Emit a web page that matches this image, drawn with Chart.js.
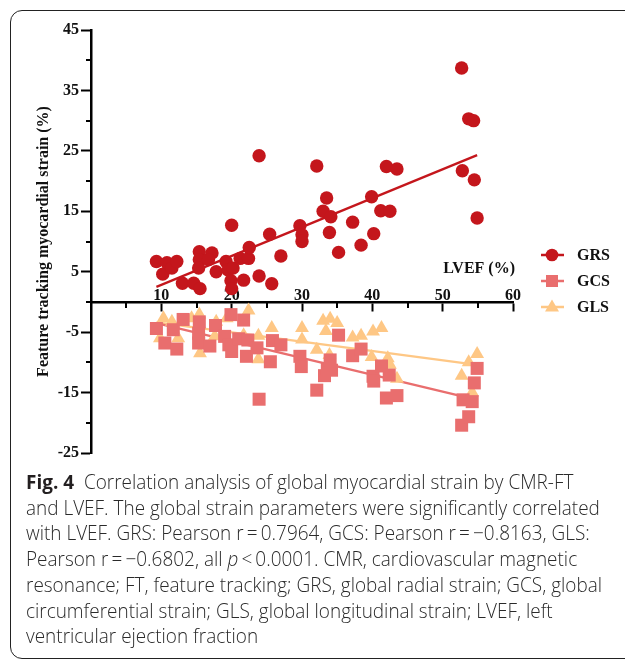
<!DOCTYPE html>
<html>
<head>
<meta charset="utf-8">
<script src="https://cdn.jsdelivr.net/npm/chart.js@4.4.0/dist/chart.umd.min.js"></script>
<style>
  html, body { margin: 0; padding: 0; background: #fff; }
  body { width: 625px; height: 660px; position: relative; overflow: hidden; }
  #frame {
    position: absolute; left: 10px; top: 10px; width: 720px; height: 649px;
    border: 1.5px solid #222; border-radius: 12px; box-sizing: border-box;
  }
  #wrap { position: absolute; left: 0; top: 0; width: 625px; height: 470px; }
  #cap {
    position: absolute; left: 26px; top: 469px; white-space: nowrap;
    font-family: "Open Sans", sans-serif; font-weight: 300; font-size: 20px; line-height: 25.7px;
    color: #2a2a2a; transform-origin: left top;
  }
  #cap b { font-weight: 700; color: #231f20; }
</style>
</head>
<body>
<div id="frame"></div>
<div id="wrap"><canvas id="myChart" width="625" height="470"></canvas></div>
<div id="cap">
  <div><b>Fig. 4</b>&nbsp; Correlation analysis of global myocardial strain by CMR-FT</div>
  <div class="ref">and LVEF. The global strain parameters were significantly correlated</div>
  <div>with LVEF. GRS: Pearson r&thinsp;=&thinsp;0.7964, GCS: Pearson r&thinsp;=&thinsp;&minus;0.8163, GLS:</div>
  <div>Pearson r&thinsp;=&thinsp;&minus;0.6802, all <i>p</i>&thinsp;&lt;&thinsp;0.0001. CMR, cardiovascular magnetic</div>
  <div>resonance; FT, feature tracking; GRS, global radial strain; GCS, global</div>
  <div>circumferential strain; GLS, global longitudinal strain; LVEF, left</div>
  <div>ventricular ejection fraction</div>
</div>
<script>
// data (LVEF %, strain %)
const grsX = [9.3, 10.2, 10.8, 11.5, 12.2, 13.0, 14.6, 15.5, 15.4, 15.4, 15.3, 17.2, 16.7, 17.8, 19.2, 19.5, 20.2, 19.9, 20.0, 20.0, 21.7, 21.2, 22.4, 22.5, 23.9, 23.9, 25.4, 25.7, 27.0, 29.7, 30.0, 30.0, 32.1, 33.5, 33.0, 34.1, 33.9, 35.2, 37.2, 38.4, 39.9, 40.2, 41.2, 42.5, 42.0, 43.5, 52.7, 53.7, 54.4, 52.8, 54.5, 54.9];
const grsY = [6.7, 4.6, 6.5, 5.6, 6.7, 3.1, 3.1, 2.2, 8.3, 7.0, 5.6, 8.1, 7.0, 5.0, 6.7, 5.3, 5.6, 3.5, 2.2, 12.7, 3.6, 7.2, 7.2, 9.0, 24.2, 4.3, 11.2, 3.0, 7.6, 12.6, 11.1, 10.0, 22.5, 17.2, 15.0, 14.1, 11.5, 8.2, 13.2, 9.4, 17.4, 11.3, 15.1, 15.0, 22.4, 22.0, 38.7, 30.3, 30.0, 21.7, 20.2, 13.9];

const gcsX = [9.3, 10.5, 11.7, 12.2, 13.1, 15.4, 15.3, 15.3, 16.9, 17.7, 19.0, 19.9, 21.7, 19.6, 20.0, 21.0, 22.3, 22.1, 23.6, 23.9, 25.5, 25.8, 27.0, 29.7, 29.9, 32.1, 33.2, 33.6, 34.0, 34.2, 35.2, 37.2, 38.4, 40.1, 40.2, 41.3, 42.4, 42.0, 43.5, 52.7, 52.9, 53.7, 54.2, 54.5, 54.9];
const gcsY = [-4.4, -6.8, -4.6, -7.8, -2.9, -3.3, -5.2, -6.8, -7.3, -3.9, -5.7, -2.1, -3.0, -7.1, -8.2, -6.1, -6.3, -9.0, -7.6, -16.1, -9.9, -6.4, -7.1, -9.0, -10.7, -14.6, -12.2, -11.0, -9.6, -11.3, -5.5, -8.9, -7.8, -12.3, -13.1, -10.6, -12.1, -15.9, -15.5, -20.4, -16.2, -19.0, -16.5, -13.4, -11.0];

const glsX = [9.8, 10.3, 11.5, 12.4, 14.3, 15.4, 15.5, 17.8, 17.6, 19.3, 21.7, 22.4, 23.8, 23.8, 25.7, 30.0, 30.0, 32.1, 33.0, 34.0, 35.0, 33.4, 33.9, 37.2, 38.4, 40.1, 41.3, 39.9, 42.2, 42.5, 43.5, 52.7, 53.7, 54.9, 54.2];
const glsY = [-6.0, -2.7, -3.3, -6.0, -2.7, -2.1, -8.5, -3.3, -5.7, -2.7, -5.5, -1.4, -5.6, -9.5, -4.3, -4.3, -6.2, -7.9, -3.1, -2.8, -3.5, -4.8, -8.8, -5.9, -5.6, -4.9, -4.3, -9.1, -9.3, -10.4, -12.7, -12.2, -10.0, -8.6, -15.0];

// fitted lines, end points
const fitX = [9.3, 54.9];
const grsFit = [2.5, 24.3];
const gcsFit = [-3.5, -16.2];
const glsFit = [-3.4, -10.4];

// axis ticks
const xTicks = [10, 20, 30, 40, 50, 60];
const yTicks = [45, 35, 25, 15, 5, -5, -15, -25];

const RED = "#c4161c";
const PINK = "#e96e6e";
const ORANGE = "#fec785";
const SERIF = "'Liberation Serif', 'Times New Roman', serif";

const pts = (xs, ys) => xs.map((x, i) => ({ x: x, y: ys[i] }));

// minor ticks, x title and legend
const extras = {
  id: "extras",
  beforeDatasetsDraw(chart) {
    const { ctx, scales } = chart;
    const xs = scales.x, ys = scales.y;
    const y0 = ys.getPixelForValue(0);
    const left = xs.left;
    ctx.save();
    ctx.strokeStyle = "#000";
    ctx.lineWidth = 2;
    for (let v = 5; v <= 55; v += 10) {
      const px = Math.round(xs.getPixelForValue(v));
      ctx.beginPath();
      ctx.moveTo(px, y0);
      ctx.lineTo(px, y0 + 6);
      ctx.stroke();
    }
    for (let v = -20; v <= 40; v += 10) {
      const py = Math.round(ys.getPixelForValue(v));
      ctx.beginPath();
      ctx.moveTo(left, py);
      ctx.lineTo(left - 5, py);
      ctx.stroke();
    }
    ctx.restore();
  },
  afterDraw(chart) {
    const { ctx, scales } = chart;
    ctx.save();
    ctx.fillStyle = "#111";
    ctx.font = "bold 16px " + SERIF;
    ctx.textAlign = "right";
    ctx.textBaseline = "middle";
    ctx.fillText("LVEF (%)", scales.x.right + 2, scales.y.getPixelForValue(0) - 33);

    const items = [
      { label: "GRS", color: RED, shape: "circle", y: 255 },
      { label: "GCS", color: PINK, shape: "square", y: 281 },
      { label: "GLS", color: ORANGE, shape: "triangle", y: 307 },
    ];
    items.forEach((it) => {
      const cx = 552;
      ctx.strokeStyle = it.color;
      ctx.fillStyle = it.color;
      ctx.lineWidth = 2.5;
      ctx.beginPath();
      ctx.moveTo(541, it.y);
      ctx.lineTo(564, it.y);
      ctx.stroke();
      ctx.beginPath();
      if (it.shape === "circle") {
        ctx.arc(cx, it.y, 6.3, 0, Math.PI * 2);
      } else if (it.shape === "square") {
        ctx.rect(cx - 6, it.y - 6, 12, 12);
      } else {
        ctx.moveTo(cx, it.y - 7.5);
        ctx.lineTo(cx + 7, it.y + 4.5);
        ctx.lineTo(cx - 7, it.y + 4.5);
        ctx.closePath();
      }
      ctx.fill();
      ctx.fillStyle = "#111";
      ctx.textAlign = "left";
      ctx.fillText(it.label, 577, it.y + 1);
    });
    ctx.restore();
  },
};

function renderChart() {
  const ctx = document.getElementById("myChart").getContext("2d");
  const myChart = new Chart(ctx, {
    type: "scatter",
    data: {
      datasets: [
        {
          label: "GRS",
          data: pts(grsX, grsY),
          pointStyle: "circle",
          pointRadius: 6.7,
          pointBorderWidth: 0,
          backgroundColor: RED,
          borderColor: RED,
          order: 1,
        },
        {
          label: "GCS",
          data: pts(gcsX, gcsY),
          pointStyle: "rect",
          pointRadius: 9.2,
          pointBorderWidth: 0,
          backgroundColor: PINK,
          borderColor: PINK,
          order: 2,
        },
        {
          label: "GLS",
          data: pts(glsX, glsY),
          pointStyle: "triangle",
          pointRadius: 8,
          pointBorderWidth: 0,
          backgroundColor: ORANGE,
          borderColor: ORANGE,
          order: 3,
        },
        {
          label: "GRS fit",
          data: pts(fitX, grsFit),
          showLine: true,
          pointRadius: 0,
          borderColor: RED,
          borderWidth: 2.3,
          order: 4,
        },
        {
          label: "GCS fit",
          data: pts(fitX, gcsFit),
          showLine: true,
          pointRadius: 0,
          borderColor: PINK,
          borderWidth: 2.3,
          order: 5,
        },
        {
          label: "GLS fit",
          data: pts(fitX, glsFit),
          showLine: true,
          pointRadius: 0,
          borderColor: ORANGE,
          borderWidth: 2.3,
          order: 6,
        },
      ],
    },
    options: {
      responsive: false,
      animation: false,
      events: [],
      layout: { padding: { left: 0, right: 112, top: 30, bottom: 17 } },
      plugins: { legend: { display: false }, tooltip: { enabled: false } },
      scales: {
        x: {
          type: "linear",
          position: { y: 0 },
          min: 0,
          max: 60,
          border: { color: "#000", width: 2.5 },
          grid: {
            drawOnChartArea: false,
            tickLength: 8,
            tickWidth: 2,
            tickColor: (c) => (c.tick && xTicks.includes(c.tick.value) ? "#000" : "rgba(0,0,0,0)"),
          },
          ticks: {
            stepSize: 5,
            padding: -24,
            color: "#111",
            font: { family: SERIF, size: 16, weight: "bold" },
            callback: (v) => (xTicks.includes(v) ? String(v) : ""),
            maxRotation: 0,
            autoSkip: false,
          },
        },
        y: {
          type: "linear",
          position: "left",
          min: -25,
          max: 45,
          afterFit: (s) => {
            s.width = 91;
          },
          border: { color: "#000", width: 2.5 },
          grid: {
            drawOnChartArea: false,
            tickLength: 10,
            tickWidth: 2,
            tickColor: (c) => (c.tick && yTicks.includes(c.tick.value) ? "#000" : "rgba(0,0,0,0)"),
          },
          ticks: {
            stepSize: 5,
            padding: 2,
            color: "#111",
            font: { family: SERIF, size: 16, weight: "bold" },
            callback: (v) => (yTicks.includes(v) ? String(v) : ""),
            autoSkip: false,
          },
          title: {
            display: true,
            text: "Feature tracking myocardial strain (%)",
            color: "#111",
            font: { family: SERIF, size: 16, weight: "bold" },
            padding: { top: 34, bottom: 0 },
          },
        },
      },
    },
    plugins: [extras],
  });
}

function fitCaption() {
  const cap = document.getElementById("cap");
  const ref = cap.querySelector(".ref");
  const w = ref.getBoundingClientRect().width;
  const s = 576 / w;
  cap.style.transform = "scaleX(" + s + ")";
}

renderChart();
fitCaption();
</script>
</body>
</html>
